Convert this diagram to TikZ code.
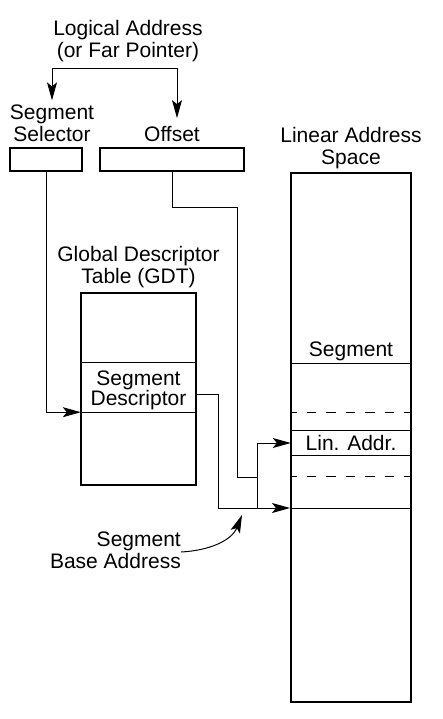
\documentclass[tikz,border=0pt]{standalone}
\usepackage{fontspec}
\setmainfont{Liberation Sans}
\usetikzlibrary{arrows.meta, positioning, calc}

\begin{document}
\begin{tikzpicture}[x=1pt, y=-1pt,
  box/.style={draw, line width=2pt, inner sep=0pt},
  lbl/.style={align=center, inner sep=0pt, font=\fontsize{21}{22}\selectfont},
  conn/.style={line width=1pt},
  gap/.style={conn, dash pattern=on 9.5pt off 10pt, dash phase=3pt},
  arr/.style={conn, -{Stealth[length=18pt, width=10pt, inset=4pt]}}
]
  \useasboundingbox (0,0) rectangle (443,719);
  % logical address and its two parts
  \node[lbl] (logaddr) at (128,41) {Logical Address\\(or Far Pointer)};
  \node[lbl] (sellabel) at (52,123) {Segment\\Selector};
  \node[lbl] (offlabel) at (172,134) {Offset};
  \node[box, minimum width=72pt, minimum height=23pt] (selbox) at (46,159.5) {};
  \node[box, minimum width=144pt, minimum height=23pt] (offbox) at (172,159.5) {};
  \coordinate (fork) at (114,69);
  \draw[arr] (fork) -| ([yshift=4pt]sellabel.north);
  \draw[arr] (fork) -| ([xshift=5pt, yshift=8pt]offlabel.north);

  % descriptor table
  \node[lbl] (gdtlabel) at (138.5,267) {Global Descriptor\\Table (GDT)};
  \node[box, minimum width=115pt, minimum height=192pt] (gdt) at (138.5,389) {};
  \node[minimum width=115pt, minimum height=49pt, inner sep=0pt] (desc) at (138.5,387.5) {};
  \node[lbl, font=\fontsize{21}{20}\selectfont] (desctext) at (138.5,390) {Segment\\Descriptor};
  \draw[conn] (desc.north west) -- (desc.north east) (desc.south west) -- (desc.south east);

  % linear address space
  \node[lbl] (laslabel) at (351,148) {Linear Address\\Space};
  \node[box, minimum width=120pt, minimum height=529pt] (las) at (351,437.5) {};
  \node[lbl] (segtext) at (351,351) {Segment};
  \draw[conn] (las.west |- 0,363) -- (las.east |- 0,363);
  \draw[gap] (las.west |- 0,412) -- (las.east |- 0,412);
  \node[lbl, minimum width=120pt, minimum height=24pt] (linrow) at (351,443) {Lin. Addr.};
  \draw[conn] (linrow.north west) -- (linrow.north east) (linrow.south west) -- (linrow.south east);
  \draw[gap] (las.west |- 0,476) -- (las.east |- 0,476);
  \coordinate (base) at (las.west |- 0,508);
  \draw[conn] (base) -- (las.east |- base);

  % connectors
  \draw[arr] (selbox.south) |- (desc.south west);
  \draw[arr] ([yshift=-6.5pt]desc.east) -- ++(22,0) |- (base);
  \coordinate (sum) at (257,477);
  \draw[conn] (offbox.south) |- (237,208) |- (sum);
  \draw[arr] (sum |- base) |- (linrow.west);

  % base address callout
  \node[lbl, align=right, anchor=east] (baselabel) at (181,550) {Segment\\Base Address};
  \coordinate (basept) at (242,515);
  \draw[arr] ([yshift=-2pt]baselabel.east) to[out=3, in=-112] (basept);
\end{tikzpicture}
\end{document}
